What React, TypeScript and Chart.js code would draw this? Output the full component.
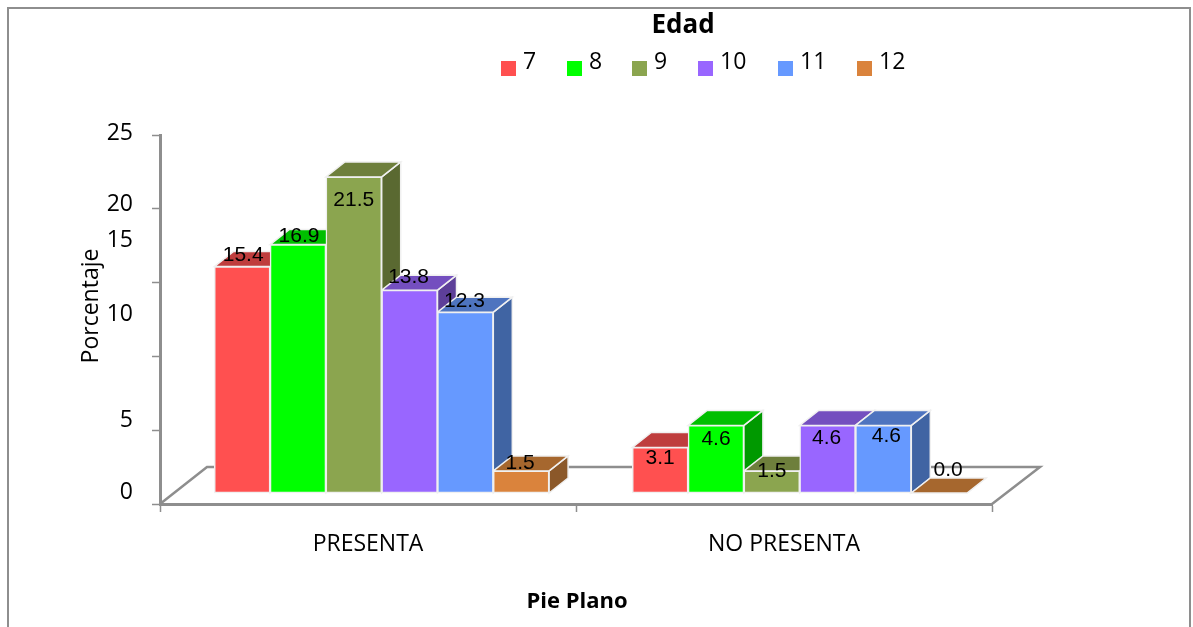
import React, { useEffect, useRef } from "react";
import { Chart, registerables } from "chart.js";

Chart.register(...registerables);

const categories = ["PRESENTA", "NO PRESENTA"];
const ages = ["7", "8", "9", "10", "11", "12"];
const age7 = [15.4, 3.1];
const age8 = [16.9, 4.6];
const age9 = [21.5, 1.5];
const age10 = [13.8, 4.6];
const age11 = [12.3, 4.6];
const age12 = [1.5, 0.0];
const seriesValues = [age7, age8, age9, age10, age11, age12];
const yTicks = [0, 5, 10, 15, 20, 25];

const frontColors = ["#FF5050", "#00FF00", "#8BA54F", "#9966FF", "#6699FF", "#DA833C"];
const topColors = ["#BF3D3D", "#00BF00", "#6E7F3C", "#744FBF", "#4E74BF", "#A6672E"];
const sideColors = ["#993131", "#009900", "#5A6931", "#5D3F99", "#4064A3", "#8B5829"];

const GRAY = "#8E8E8E";
const EDGE = "#F0F0F0";
const BLACK = "#000000";
const SANS = '"Open Sans", sans-serif';
const DEPTH_X = 19;
const DEPTH_Y = -15;

// Floor offset of the back wall relative to the front axis line.
const FLOOR_X = 47;
const FLOOR_Y = -37;

// Hand placement of the axis numbers and bar labels, relative to their anchors.
const tickLabelShift: Record<number, number> = { 0: -12, 5: -10, 10: -42, 15: -42, 20: -4, 25: -2 };
const valueLabelShift = [
  [[1, -11], [0, 11]],
  [[1, -8], [0, 14]],
  [[0, 23], [0, 0]],
  [[-1, -13], [-1, 13]],
  [[-1, -11], [3, 11]],
  [[-1, -8], [9, -23]],
];
const legendLefts = [501, 567, 632, 698, 778, 857];

function polygon(ctx: CanvasRenderingContext2D, pts: number[][], fill: string) {
  ctx.beginPath();
  pts.forEach(([x, y], i) => (i ? ctx.lineTo(x, y) : ctx.moveTo(x, y)));
  ctx.closePath();
  ctx.fillStyle = fill;
  ctx.fill();
  ctx.lineWidth = 1.5;
  ctx.strokeStyle = EDGE;
  ctx.stroke();
}

function text(
  ctx: CanvasRenderingContext2D,
  str: string,
  x: number,
  y: number,
  font: string,
  align: CanvasTextAlign = "center"
) {
  ctx.font = font;
  ctx.fillStyle = BLACK;
  ctx.textAlign = align;
  ctx.textBaseline = "middle";
  ctx.fillText(str, x, y);
}

const chartDecor = {
  id: "chartDecor",
  // Frame, floor outline, titles, legend, shifted axis numbers, then the box sides and lids.
  beforeDatasetsDraw(chart: any) {
    const { ctx, chartArea, scales } = chart;
    const { left, right, bottom } = chartArea;
    ctx.save();
    ctx.strokeStyle = GRAY;
    ctx.lineWidth = 2;
    ctx.beginPath();
    ctx.moveTo(8, chart.height);
    ctx.lineTo(8, 8);
    ctx.lineTo(1190, 8);
    ctx.lineTo(1190, chart.height);
    ctx.stroke();

    ctx.lineWidth = 2.5;
    ctx.beginPath();
    ctx.moveTo(left, bottom);
    ctx.lineTo(left + FLOOR_X, bottom + FLOOR_Y);
    ctx.lineTo(right + FLOOR_X + 1, bottom + FLOOR_Y);
    ctx.lineTo(right, bottom);
    ctx.stroke();

    scales.y.ticks.forEach((t: any) => {
      const y = scales.y.getPixelForValue(t.value) + tickLabelShift[t.value];
      text(ctx, String(t.label), 133, y, `23px ${SANS}`, "right");
    });

    ctx.save();
    ctx.translate(91, 306);
    ctx.rotate(-Math.PI / 2);
    text(ctx, "Porcentaje", 0, 0, `23px ${SANS}`);
    ctx.restore();

    text(ctx, "Edad", 683, 26, `bold 26px ${SANS}`);
    text(ctx, "Pie Plano", 577, 602, `bold 22px ${SANS}`);

    chart.data.datasets.forEach((ds: any, i: number) => {
      ctx.fillStyle = ds.backgroundColor;
      ctx.fillRect(legendLefts[i], 61, 15, 15);
      text(ctx, ds.label, legendLefts[i] + 22, 62, `23px ${SANS}`, "left");
    });

    chart.data.datasets.forEach((_: any, i: number) => {
      chart.getDatasetMeta(i).data.forEach((bar: any) => {
        const l = bar.x - bar.width / 2;
        const r = bar.x + bar.width / 2;
        const t = bar.y;
        const b = bar.base;
        polygon(ctx, [[r, t], [r + DEPTH_X, t + DEPTH_Y], [r + DEPTH_X, b + DEPTH_Y], [r, b]], sideColors[i]);
        polygon(ctx, [[l, t], [l + DEPTH_X, t + DEPTH_Y], [r + DEPTH_X, t + DEPTH_Y], [r, t]], topColors[i]);
      });
    });
    ctx.restore();
  },
  afterDatasetsDraw(chart: any) {
    const { ctx } = chart;
    ctx.save();
    chart.data.datasets.forEach((ds: any, i: number) => {
      chart.getDatasetMeta(i).data.forEach((bar: any, j: number) => {
        const [dx, dy] = valueLabelShift[i][j];
        text(ctx, ds.data[j].y.toFixed(1), bar.x + dx, bar.y + dy, '21px "Liberation Sans", Arial, sans-serif');
      });
    });
    ctx.restore();
  },
};

export default function App() {
  const ref = useRef<HTMLCanvasElement | null>(null);

  useEffect(() => {
    if (!ref.current) return;
    const chart = new Chart(ref.current, {
      type: "bar",
      data: {
        labels: categories,
        datasets: ages.map((age, i) => ({
          label: age,
          data: seriesValues[i].map((y, x) => ({ x, y })),
          backgroundColor: frontColors[i],
          borderColor: EDGE,
          borderWidth: 1.5,
          borderSkipped: false,
          xAxisID: "xBars",
          yAxisID: "yBars",
          barThickness: 55.8,
        })),
      },
      options: {
        responsive: false,
        animation: false,
        layout: { padding: { left: 160, right: 201, top: 135, bottom: 0 } },
        plugins: { legend: { display: false }, title: { display: false }, tooltip: { enabled: false } },
        scales: {
          x: {
            type: "category",
            offset: true,
            afterFit: (s: any) => {
              s.height = 123;
            },
            border: { color: GRAY, width: 3 },
            grid: { offset: true, drawOnChartArea: false, tickLength: 8, color: GRAY, tickColor: GRAY, tickWidth: 1.5 },
            ticks: {
              color: BLACK,
              font: { family: "Open Sans", size: 23 },
              padding: 19,
              maxRotation: 0,
            },
          },
          y: {
            type: "linear",
            min: yTicks[0],
            max: yTicks[yTicks.length - 1],
            afterFit: (s: any) => {
              s.width = 0;
            },
            border: { color: GRAY, width: 3 },
            grid: { drawOnChartArea: false, tickLength: 8, color: GRAY, tickColor: GRAY, tickWidth: 1.5 },
            ticks: { display: false, stepSize: 5 },
          },
          // Hidden scales for the bars: the drawn boxes sit on a floor set back from the axes.
          xBars: {
            type: "linear",
            axis: "x",
            display: false,
            offset: false,
            bounds: "data",
            grid: { offset: false },
            min: -221.7 / 418,
            max: -221.7 / 418 + 832 / 418,
          },
          yBars: {
            type: "linear",
            axis: "y",
            display: false,
            bounds: "data",
            min: -11 / 14.7,
            max: 358 / 14.7,
          },
        },
      } as any,
      plugins: [chartDecor],
    } as any);
    return () => chart.destroy();
  }, []);

  return (
    <div style={{ position: "fixed", left: 0, top: 0, width: 1193, height: 627, background: "#fff" }}>
      <canvas ref={ref} width={1193} height={627} />
    </div>
  );
}
